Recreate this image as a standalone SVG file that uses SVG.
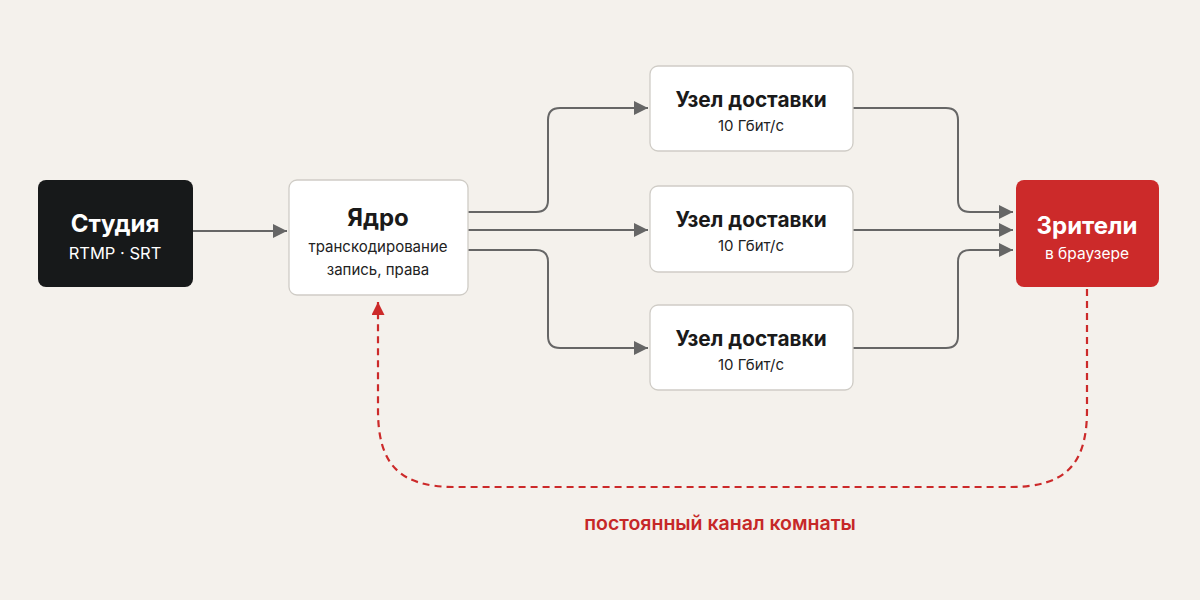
<svg xmlns="http://www.w3.org/2000/svg" width="1200" height="600" viewBox="0 0 1200 600">
<defs>
<style>
.t{font-family:Inter,"Liberation Sans",sans-serif;text-anchor:middle}
.h{font-weight:700;font-size:24px}
.h2{font-weight:700;font-size:20.8px;fill:#1a1a1a}
.s{font-size:15px;fill:#222}
.box{fill:#fff;stroke:#cfccc6;stroke-width:1.3}
.c{fill:none;stroke:#666;stroke-width:2}
</style>
<marker id="ah" viewBox="0 0 10 10" refX="10" refY="5" markerWidth="20" markerHeight="14" markerUnits="userSpaceOnUse" orient="auto"><path d="M0,0L10,5L0,10z" fill="#666"/></marker>
<marker id="ar" viewBox="0 0 10 10" refX="10" refY="5" markerWidth="17" markerHeight="13" markerUnits="userSpaceOnUse" orient="auto"><path d="M0,0L10,5L0,10z" fill="#cc2a2a"/></marker>
</defs>
<rect width="1200" height="600" fill="#f4f1ec"/>
<g id="connectors">
<path class="c" d="M193,231H287" marker-end="url(#ah)"/>
<path class="c" d="M468,212H536Q548,212 548,200V120Q548,108 560,108H648" marker-end="url(#ah)"/>
<path class="c" d="M468,230H648" marker-end="url(#ah)"/>
<path class="c" d="M468,250H536Q548,250 548,262V336Q548,348 560,348H648" marker-end="url(#ah)"/>
<path class="c" d="M853,108H946Q958,108 958,120V200Q958,212 970,212H1013" marker-end="url(#ah)"/>
<path class="c" d="M853,230H1013" marker-end="url(#ah)"/>
<path class="c" d="M853,348H946Q958,348 958,336V262Q958,250 970,250H1013" marker-end="url(#ah)"/>
<path d="M1087,289V410C1087,465 1065,487 1010,487H455C400,487 378,465 378,410V302" fill="none" stroke="#cc2a2a" stroke-width="2.2" stroke-dasharray="7,5" marker-end="url(#ar)"/>
</g>
<g id="studio">
<rect x="38" y="180" width="155" height="107" rx="8" fill="#17191a"/>
<text class="t h" x="115" y="232" fill="#fff">Студия</text>
<text class="t" x="115" y="259" font-size="16.5" fill="#fff">RTMP · SRT</text>
</g>
<g id="core">
<rect class="box" x="289" y="180" width="179" height="115" rx="8"/>
<text class="t h" x="378" y="226" fill="#1a1a1a">Ядро</text>
<text class="t s" x="378" y="252">транскодирование</text>
<text class="t s" x="378" y="275">запись, права</text>
</g>
<g id="node1">
<rect class="box" x="650" y="66" width="203" height="85" rx="8"/>
<text class="t h2" x="751" y="107">Узел доставки</text>
<text class="t s" x="751" y="131" font-size="15.5">10 Гбит/с</text>
</g>
<g id="node2">
<rect class="box" x="650" y="186" width="203" height="86" rx="8"/>
<text class="t h2" x="751" y="227">Узел доставки</text>
<text class="t s" x="751" y="251" font-size="15.5">10 Гбит/с</text>
</g>
<g id="node3">
<rect class="box" x="650" y="305" width="203" height="85" rx="8"/>
<text class="t h2" x="751" y="346">Узел доставки</text>
<text class="t s" x="751" y="370" font-size="15.5">10 Гбит/с</text>
</g>
<g id="viewers">
<rect x="1016" y="180" width="143" height="107" rx="8" fill="#cc2a2a"/>
<text class="t h" x="1087" y="234" fill="#fff">Зрители</text>
<text class="t" x="1087" y="259" font-size="15.5" fill="#fff">в браузере</text>
</g>
<text class="t" x="720" y="530" font-size="19.5" font-weight="600" fill="#c62828">постоянный канал комнаты</text>
</svg>
